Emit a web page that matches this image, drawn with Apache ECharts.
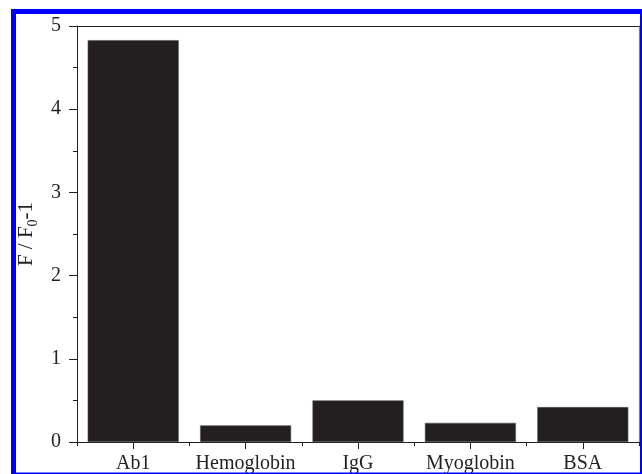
<!DOCTYPE html>
<html>
<head>
<meta charset="utf-8">
<script src="https://cdn.jsdelivr.net/npm/echarts@6/dist/echarts.min.js"></script>
<style>
  html, body { margin: 0; padding: 0; background: #fff; }
  #chart { width: 642px; height: 474px; }
</style>
</head>
<body>
<div id="chart"></div>
<script>
// Relative fluorescence response (F/F0 - 1) towards each protein
const categories = ['Ab1', 'Hemoglobin', 'IgG', 'Myoglobin', 'BSA'];
const response = [4.83, 0.20, 0.50, 0.23, 0.42];
const yTicks = [0, 1, 2, 3, 4, 5];

const ink = '#231f20';
const serif = '"Liberation Serif", "Times New Roman", serif';

const chart = echarts.init(document.getElementById('chart'), null, { renderer: 'canvas' });

chart.setOption({
  backgroundColor: '#ffffff',
  animation: false,
  grid: { left: 77, right: 3, top: 26, bottom: 31, containLabel: false },
  xAxis: [
    {
      type: 'category',
      data: categories,
      position: 'bottom',
      axisLine: { show: true, lineStyle: { color: ink, width: 1 } },
      axisTick: { show: true, alignWithLabel: true, length: 7, inside: false, lineStyle: { color: ink } },
      axisLabel: { color: ink, fontFamily: serif, fontSize: 20, margin: 12, interval: 0 },
      splitLine: { show: false }
    },
    {
      // boundary ticks between categories
      type: 'category',
      data: categories,
      position: 'bottom',
      axisLine: { show: false },
      axisTick: { show: true, length: 4, interval: 0, lineStyle: { color: ink } },
      axisLabel: { show: false },
      splitLine: { show: false }
    },
    {
      // top frame line
      type: 'category',
      data: categories,
      position: 'top',
      axisLine: { show: true, lineStyle: { color: ink, width: 1.2 } },
      axisTick: { show: false },
      axisLabel: { show: false },
      splitLine: { show: false }
    }
  ],
  yAxis: [
    {
      type: 'value',
      min: yTicks[0],
      max: yTicks[yTicks.length - 1],
      interval: 1,
      position: 'left',
      name: '{a|F / F}{b|0}{a|-1}',
      nameLocation: 'middle',
      nameGap: 20,
      nameTextStyle: {
        rich: {
          a: { fontFamily: serif, fontSize: 21, color: ink, lineHeight: 28, verticalAlign: 'middle' },
          b: { fontFamily: serif, fontSize: 14, color: ink, verticalAlign: 'bottom' }
        }
      },
      axisLine: { show: true, lineStyle: { color: ink, width: 1 } },
      axisTick: { show: true, length: 8, inside: false, lineStyle: { color: ink } },
      minorTick: { show: true, splitNumber: 2, length: 4, lineStyle: { color: ink } },
      axisLabel: { color: ink, fontFamily: serif, fontSize: 20, margin: 16 },
      splitLine: { show: false },
      minorSplitLine: { show: false }
    },
    {
      // right frame line
      type: 'value',
      min: yTicks[0],
      max: yTicks[yTicks.length - 1],
      position: 'right',
      axisLine: { show: true, lineStyle: { color: '#808080', width: 1.2 } },
      axisTick: { show: false },
      axisLabel: { show: false },
      splitLine: { show: false }
    }
  ],
  series: [
    {
      type: 'bar',
      xAxisIndex: 0,
      yAxisIndex: 0,
      data: response,
      barWidth: '81%',
      itemStyle: { color: ink, borderColor: '#5a5657', borderWidth: 0.6 }
    }
  ],
  graphic: [
    {
      type: 'rect',
      silent: true,
      z: 100,
      shape: { x: 13.5, y: 11.5, width: 629, height: 463.5 },
      style: { fill: 'none', stroke: '#0000ff', lineWidth: 5 }
    }
  ]
});
</script>
</body>
</html>
